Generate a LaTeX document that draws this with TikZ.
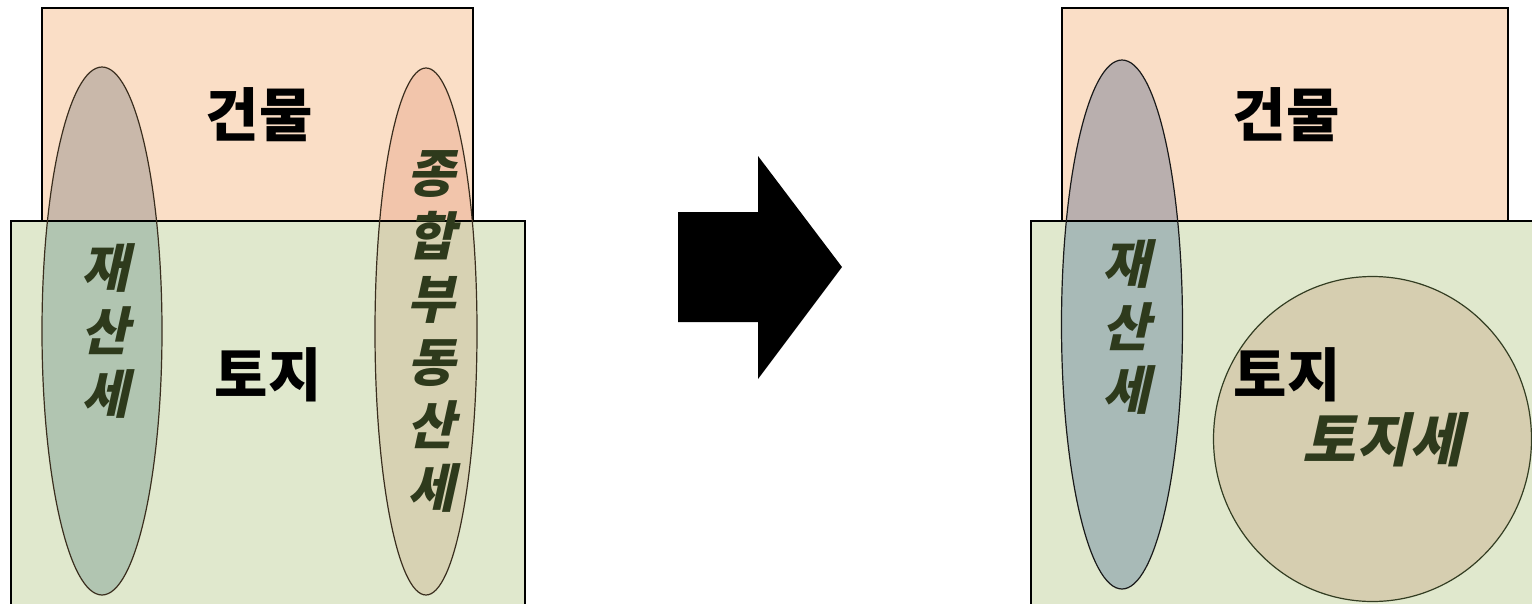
\documentclass[tikz,border=0pt]{standalone}
\usepackage{fontspec}
\newfontfamily\kr{Noto Sans CJK KR}
\newfontfamily\krsl{Noto Sans CJK KR}[FakeSlant=0.22]
\definecolor{peach}{HTML}{FADEC6}
\definecolor{landg}{HTML}{E0E8CD}
\definecolor{eAp}{HTML}{C9B8AA}
\definecolor{eAg}{HTML}{B1C5B1}
\definecolor{eBp}{HTML}{F2C5AB}
\definecolor{eBg}{HTML}{D7D2B3}
\definecolor{eCp}{HTML}{B9AFAE}
\definecolor{eCg}{HTML}{A8BAB7}
\definecolor{circg}{HTML}{D6CEB0}
\definecolor{olivetext}{HTML}{2E3A1C}
\definecolor{ebrown}{HTML}{3A2E1E}
\definecolor{eolive}{HTML}{333D22}
\tikzset{
  rectline/.style={draw=black, line width=1.3pt},
  ellline/.style={line width=1.2pt},
  biglbl/.style={font=\kr\bfseries\fontsize{58}{60}\selectfont, text=black, inner sep=0pt},
  vlbl/.style={font=\krsl\bfseries\fontsize{52}{63}\selectfont, text=olivetext, align=center, inner sep=0pt},
}
\begin{document}
\begin{tikzpicture}[x=1pt,y=-1pt]
\clip (0,0) rectangle (1532,603);
\fill[white] (0,0) rectangle (1532,603);

% ---------- left diagram ----------
\fill[peach] (42,8) rectangle (473,221);
\fill[landg] (11,221) rectangle (525,610);
\begin{scope}
  \clip (102,331) ellipse [x radius=60pt, y radius=264pt];
  \fill[eAp] (0,0) rectangle (1532,221);
  \fill[eAg] (0,221) rectangle (1532,620);
\end{scope}
\begin{scope}
  \clip (426,331.5) ellipse [x radius=51pt, y radius=263.5pt];
  \fill[eBp] (0,0) rectangle (1532,221);
  \fill[eBg] (0,221) rectangle (1532,620);
\end{scope}
\draw[rectline] (42,221) -- (42,8) -- (473,8) -- (473,221);
\draw[rectline] (11,610) -- (11,221) -- (525,221) -- (525,610);
\draw[ellline, draw=ebrown] (102,331) ellipse [x radius=60pt, y radius=264pt];
\draw[ellline, draw=ebrown] (426,331.5) ellipse [x radius=51pt, y radius=263.5pt];

\node[biglbl] (bldL) at (259,115) {건물};
\node[biglbl] (landL) at (268,375) {토지};
\node[vlbl] (propL) at (105,331) {재\\산\\세};
\node[vlbl] (compL) at (431,331) {종\\합\\부\\동\\산\\세};

% ---------- arrow ----------
\fill[black] (678,212) -- (758,212) -- (758,156) -- (842,267) -- (758,379) -- (758,322) -- (678,322) -- cycle;

% ---------- right diagram ----------
\fill[peach] (1062,8) rectangle (1508,221);
\fill[landg] (1031,221) rectangle (1545,610);
\begin{scope}
  \clip (1122,324.5) ellipse [x radius=60.5pt, y radius=264.5pt];
  \fill[eCp] (0,0) rectangle (1532,221);
  \fill[eCg] (0,221) rectangle (1532,620);
\end{scope}
\fill[circg] (1372.5,439) ellipse [x radius=159pt, y radius=162.5pt];
\draw[rectline] (1062,221) -- (1062,8) -- (1508,8) -- (1508,221);
\draw[rectline] (1031,610) -- (1031,221) -- (1545,221);
\draw[ellline, draw=black!90] (1122,324.5) ellipse [x radius=60.5pt, y radius=264.5pt];
\draw[ellline, draw=eolive] (1372.5,439) ellipse [x radius=159pt, y radius=162.5pt];

\node[biglbl] (bldR) at (1286,115) {건물};
\node[biglbl] (landR) at (1287,375) {토지};
\node[vlbl] (propR) at (1126,327) {재\\산\\세};
\node[vlbl, font=\krsl\bfseries\fontsize{58}{60}\selectfont] (landtax) at (1383,440) {토지세};
\end{tikzpicture}
\end{document}
